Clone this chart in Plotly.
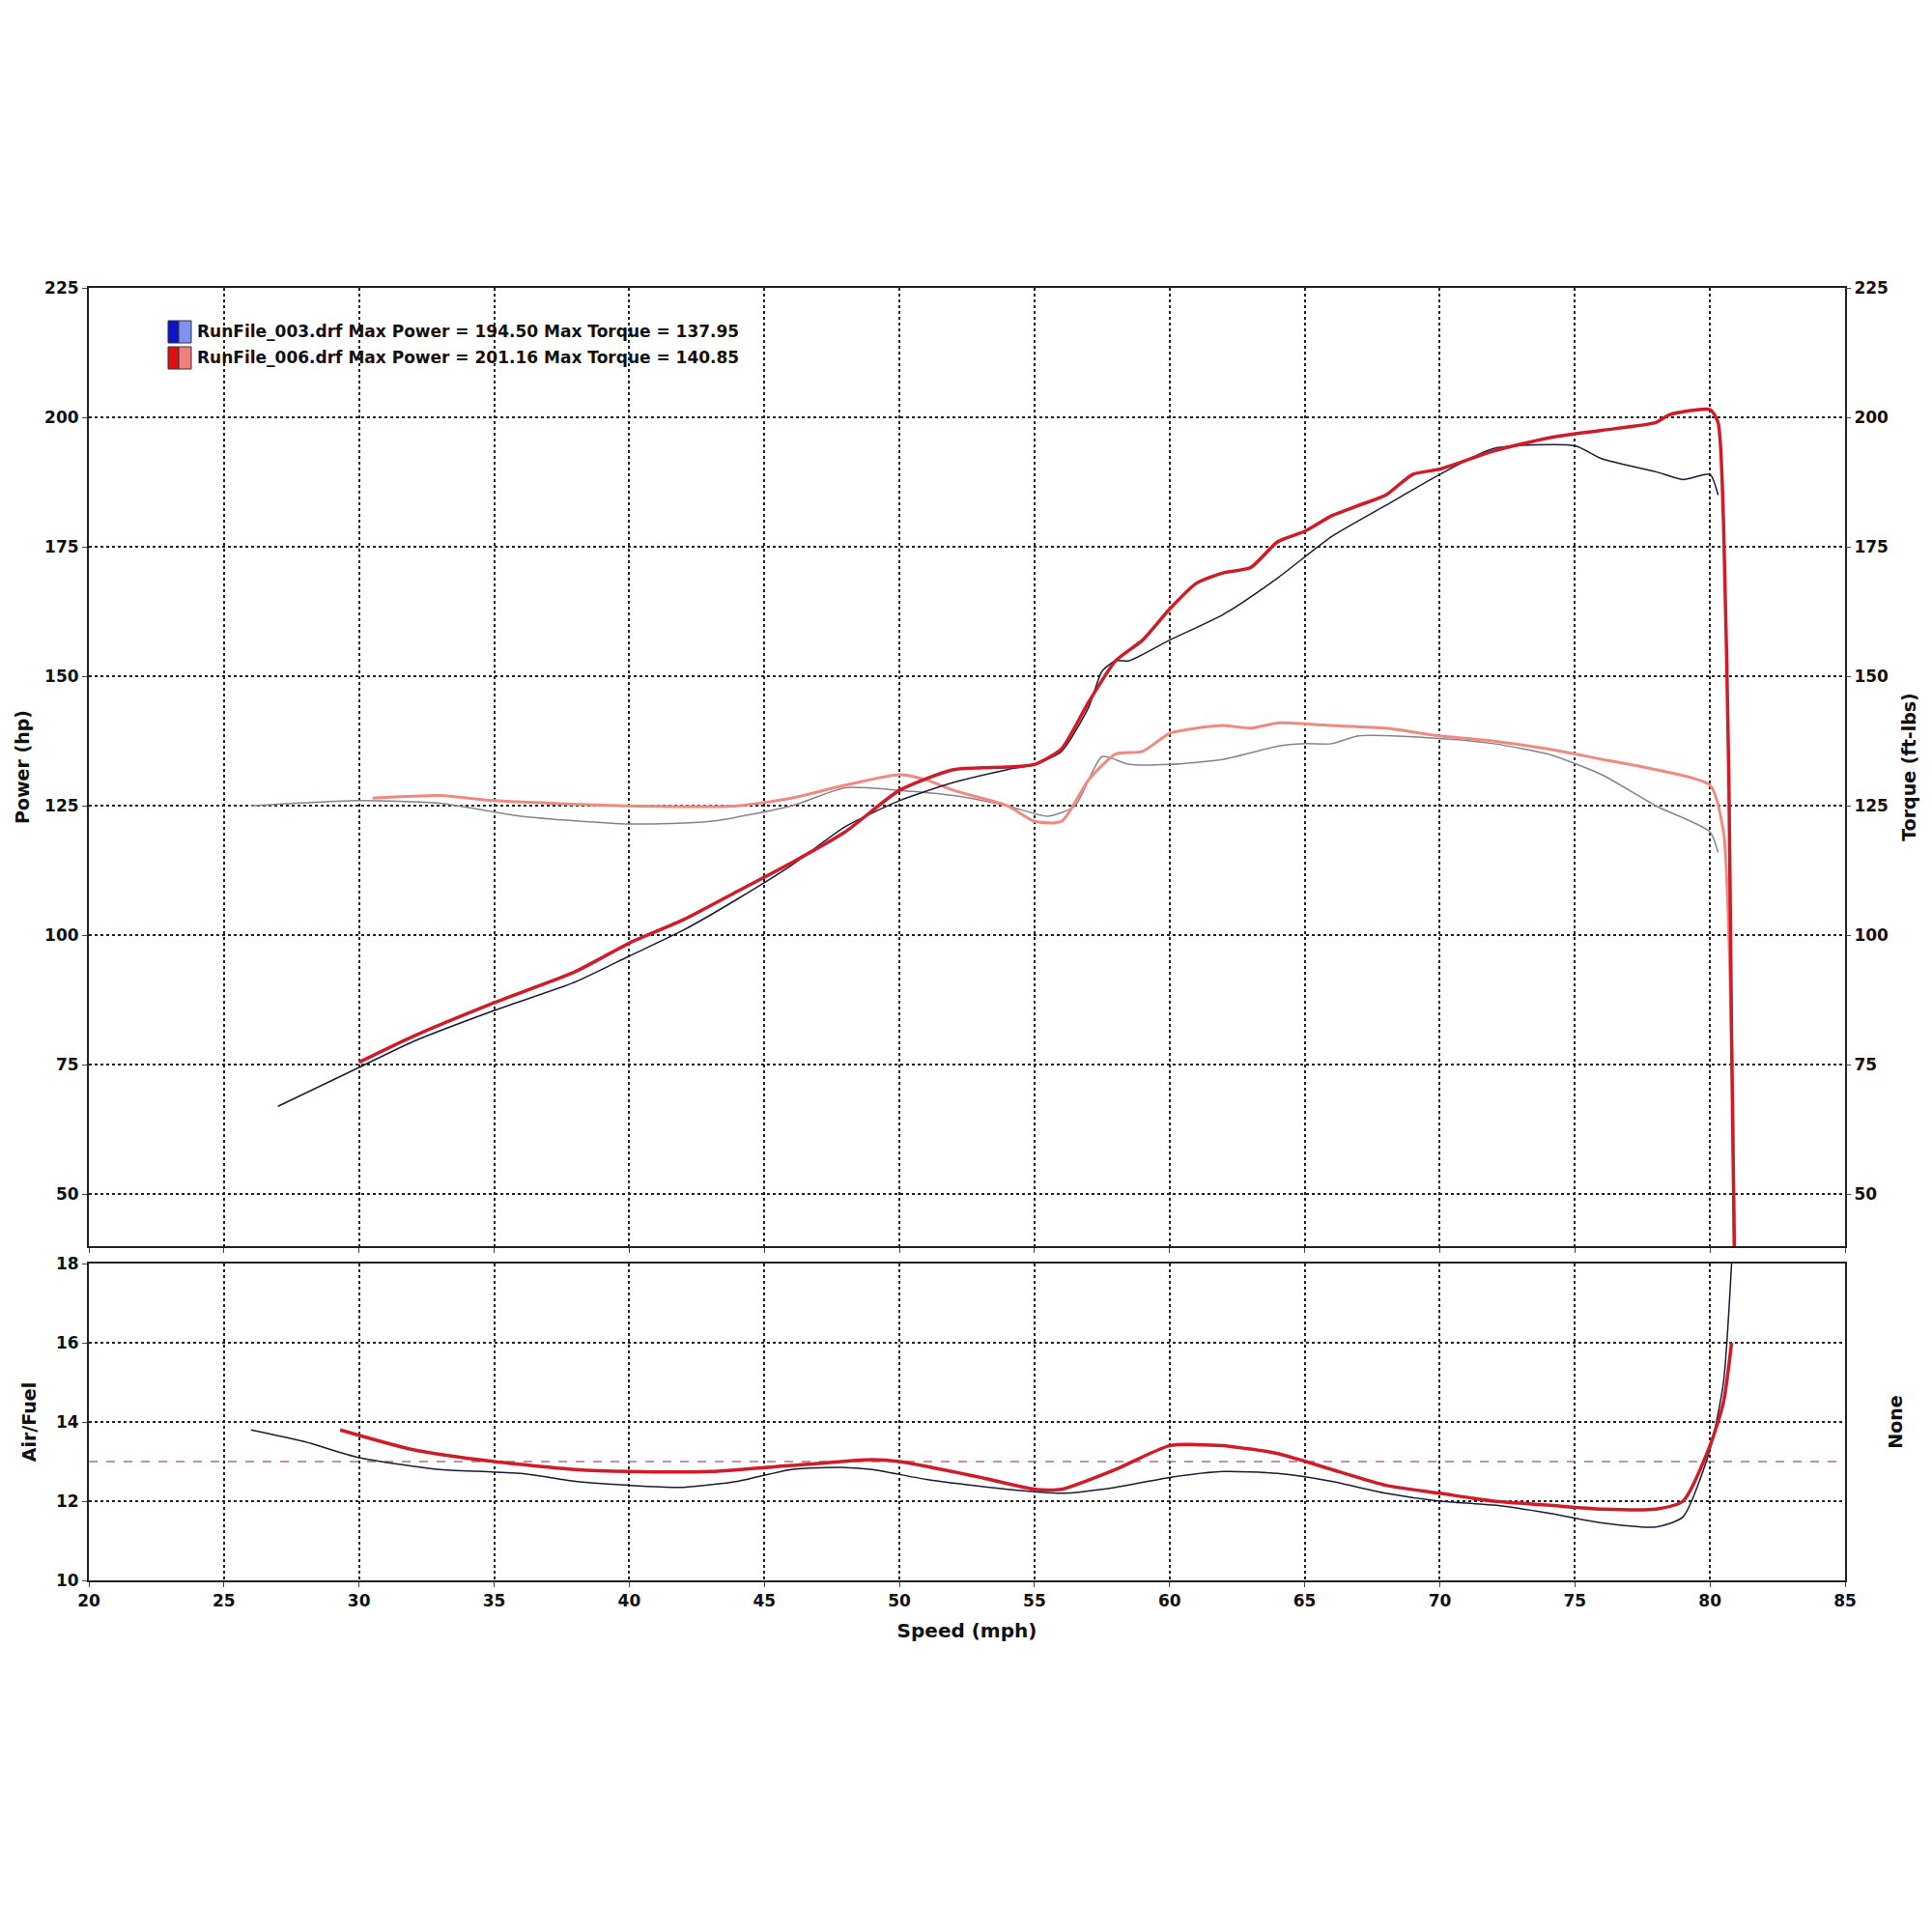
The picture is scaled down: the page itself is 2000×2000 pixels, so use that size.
import plotly.graph_objects as go

p6_x=[30,32,35,38,40,42,44,46,48,50,52,54,55,56,57,58,59,60,61,62,63,64,65,66,67,68,69,70,72,74,76,78,78.5,80,80.3,80.5,80.7,80.8,80.9]
p6_y=[75.5,80.5,87,93,98.5,103,108.5,114,120,128,132,132.5,133,136,145,153,157,163,168,170,171,176,178,181,183,185,189,190,193.5,196,197.5,199,200.5,201.5,199,180,130,80,40]
p3_x=[27,30,32,35,38,40,42,44,46,48,50,52,54,55,56,57,57.5,58,58.5,60,62,64,66,68,70,72,75,76,78,79,80,80.3]
p3_y=[67,74.5,79.5,85.5,91,96,101,107,113.5,121,126,129.5,132,133,135.5,144,151,153,153,157,162,169,177,183,189,194,194.5,192,189.5,188,189,185]
t6_x=[30.5,33,35,40,44,46,48,50,51,52,54,55,56,57,58,59,60,61,62,63,64,66,68,70,72,74,76,78,80,80.5,80.8,80.9]
t6_y=[126.5,127,126,125,125,126.5,129,131,130,128,125,122,122,130,135,135.5,139,140,140.5,140,141,140.5,140,138.5,137.5,136,134,132,129,120,80,40]
t3_x=[26,30,33,36,40,43,46,48,50,52,54,55.5,56.5,57.5,58.5,60,62,64,65,66,67,70,72,74,76,78,80,80.3]
t3_y=[125,126,125.5,123,121.5,122,125,128.5,128,127,125,123,125,134.5,133,133,134,136.5,137,137,138.5,138,137,135,131,125,120,116]
a6_x=[29.3,32,35,38,40,43,46,49,50,53,55,56,58,60,62,64,66,68,70,72,74,76,78,79,80,80.5,80.8]
a6_y=[13.8,13.3,13.0,12.8,12.75,12.75,12.9,13.05,13.0,12.6,12.3,12.3,12.8,13.4,13.4,13.2,12.8,12.4,12.2,12.0,11.9,11.8,11.8,12.0,13.4,14.5,16.0]
a3_x=[26,28,30,33,36,38,40,42,44,46,48,49,51,54,56,58,60,62,64,66,68,70,72,74,76,78,79,80,80.5,80.8]
a3_y=[13.8,13.5,13.1,12.8,12.7,12.5,12.4,12.35,12.5,12.8,12.85,12.8,12.55,12.3,12.2,12.35,12.6,12.75,12.7,12.5,12.2,12.0,11.9,11.7,11.45,11.35,11.6,13.3,15.0,18.0]
ref_x=[20,85]; ref_y=[13.0,13.0]
legend_lines=["RunFile_003.drf Max Power = 194.50 Max Torque = 137.95",
              "RunFile_006.drf Max Power = 201.16 Max Torque = 140.85"]
x_ticks=list(range(20,90,5))

F="DejaVu Sans"
fig=go.Figure()
fig.add_trace(go.Scatter(x=ref_x,y=ref_y,xaxis="x2",yaxis="y3",mode="lines",line=dict(color="#b07080",width=1.5,dash="dash")))
fig.add_trace(go.Scatter(x=t3_x,y=t3_y,mode="lines",line=dict(color="#8a8090",width=1.5,shape="spline",smoothing=0.6)))
fig.add_trace(go.Scatter(x=t6_x,y=t6_y,mode="lines",line=dict(color="#f08a80",width=3,shape="spline",smoothing=0.6)))
fig.add_trace(go.Scatter(x=p3_x,y=p3_y,mode="lines",line=dict(color="#1a1a3a",width=1.5,shape="spline",smoothing=0.6)))
fig.add_trace(go.Scatter(x=p6_x,y=p6_y,mode="lines",line=dict(color="#d01c28",width=3.5,shape="spline",smoothing=0.6)))
fig.add_trace(go.Scatter(x=a3_x,y=a3_y,xaxis="x2",yaxis="y3",mode="lines",line=dict(color="#1a1a3a",width=1.5,shape="spline",smoothing=0.6)))
fig.add_trace(go.Scatter(x=a6_x,y=a6_y,xaxis="x2",yaxis="y3",mode="lines",line=dict(color="#d01c28",width=3.5,shape="spline",smoothing=0.6)))
grid=dict(showgrid=True,gridcolor="#222",griddash="dot",gridwidth=2)
tf=dict(family=F,size=17,color="#111",weight="bold")
ax=dict(showline=True,linecolor="#222",linewidth=2,mirror=True,ticks="outside",tickfont=tf,zeroline=False,automargin=False)
fig.update_layout(width=2000,height=2000,paper_bgcolor="white",plot_bgcolor="white",showlegend=False,
  margin=dict(l=0,r=0,t=0,b=0),font=dict(family=F,color="#111"),
  xaxis=dict(domain=[0.042,0.951],range=[20,85],tickvals=x_ticks,showticklabels=False,anchor="y",**grid,**ax),
  yaxis=dict(domain=[0.359,0.855],range=[40,225],tickvals=[50,75,100,125,150,175,200,225],
     title=dict(text="<b>Power (hp)</b>",font=dict(size=19),standoff=10),**grid,**ax),
  yaxis2=dict(overlaying="y",side="right",range=[40,225],tickvals=[50,75,100,125,150,175,200,225],anchor="x",automargin=False,
     title=dict(text="<b>Torque (ft-lbs)</b>",font=dict(size=19)),showgrid=False,tickfont=tf,ticks="outside"),
  xaxis2=dict(domain=[0.042,0.951],range=[20,85],tickvals=x_ticks,anchor="y3",
     title=dict(text="<b>Speed (mph)</b>",font=dict(size=20)),**grid,**ax),
  yaxis3=dict(domain=[0.186,0.350],range=[10,18],tickvals=[10,12,14,16,18],anchor="x2",
     title=dict(text="<b>Air/Fuel</b>",font=dict(size=19)),**grid,**ax),
  yaxis4=dict(overlaying="y3",side="right",range=[10,18],anchor="x2",showticklabels=False,automargin=False,
     title=dict(text="<b>None</b>",font=dict(size=19),standoff=45),showgrid=False),
)
fig.add_trace(go.Scatter(x=[None],y=[None],yaxis="y2"))
fig.add_trace(go.Scatter(x=[None],y=[None],xaxis="x2",yaxis="y4"))
cols=[("#1010d0","#8090f0"),("#e01010","#f08080")]
for i,(t,(c1,c2)) in enumerate(zip(legend_lines,cols)):
    y0=0.838-i*0.0135
    fig.add_shape(type="rect",xref="paper",yref="paper",x0=0.083,x1=0.0885,y0=y0-0.0115,y1=y0,fillcolor=c1,line=dict(width=1,color="#333"))
    fig.add_shape(type="rect",xref="paper",yref="paper",x0=0.0885,x1=0.095,y0=y0-0.0115,y1=y0,fillcolor=c2,line=dict(width=1,color="#333"))
    fig.add_annotation(xref="paper",yref="paper",x=0.097,y=y0-0.0057,text="<b>"+t+"</b>",showarrow=False,xanchor="left",yanchor="middle",font=dict(family=F,size=17,color="#111"))
fig.write_html("out.html")
